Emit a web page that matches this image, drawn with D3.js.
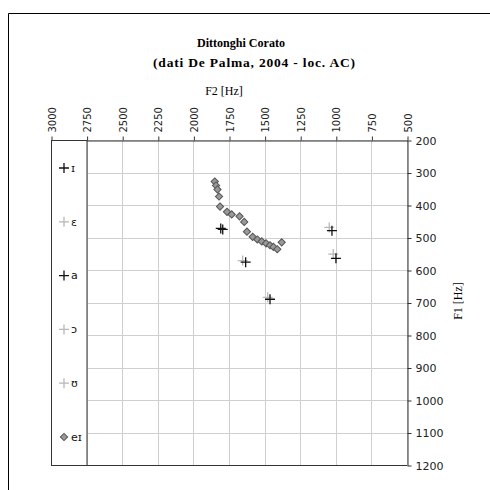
<!DOCTYPE html>
<html>
<head>
<meta charset="utf-8">
<script src="https://cdn.jsdelivr.net/npm/d3@7"></script>
<style>
  html, body { margin: 0; padding: 0; background: #fff; }
  svg { display: block; }
</style>
</head>
<body>
<div id="chart"></div>
<script>
// ── Data ────────────────────────────────────────────────────────────────
const f2Ticks = [3000, 2750, 2500, 2250, 2000, 1750, 1500, 1250, 1000, 750, 500];
const f1Ticks = [200, 300, 400, 500, 600, 700, 800, 900, 1000, 1100, 1200];

// diphthong trajectory eɪ  [F2, F1]
const eiPoints = [
  [1850, 328], [1841, 340], [1831, 352], [1820, 374], [1813, 405],
  [1764, 421], [1731, 429], [1676, 435], [1643, 452], [1624, 482],
  [1584, 498], [1551, 506], [1520, 512], [1490, 518], [1462, 524],
  [1438, 529], [1411, 536], [1380, 515]
];

// monophthong series  [F2, F1]
const iPoints = [[1808, 472], [1462, 690], [999, 564]];
const aPoints = [[1794, 475], [1633, 576], [1027, 479]];
const ePoints = [[1654, 571], [1046, 469]];
const oPoints = [[1478, 684]];
const uPoints = [[1018, 551]];

const legendLabels = ["ɪ", "ɛ", "a", "ɔ", "ʊ", "eɪ"];

// ── Palette ─────────────────────────────────────────────────────────────
const BLACK = "#111";
const LIGHT = "#b8b8b8";
const GRID = "#cfcfcf";
const AXIS = "#333";

const series = [
  { label: legendLabels[0], data: iPoints, color: BLACK, kind: "plus" },
  { label: legendLabels[1], data: ePoints, color: LIGHT, kind: "plus" },
  { label: legendLabels[2], data: aPoints, color: BLACK, kind: "plus" },
  { label: legendLabels[3], data: oPoints, color: LIGHT, kind: "plus" },
  { label: legendLabels[4], data: uPoints, color: LIGHT, kind: "plus" },
  { label: legendLabels[5], data: eiPoints, color: "#999", kind: "diamond" }
];

const W = 490, H = 490;
const svg = d3.select("#chart").append("svg").attr("width", W).attr("height", H);

// outer chart frame (extends past the picture)
svg.append("path").attr("d", "M8.5,490 V13.5 H490")
  .attr("fill", "none").attr("stroke", "#000").attr("stroke-width", 1);

const x = d3.scaleLinear().domain([3000, 500]).range([51, 407]);
const y = d3.scaleLinear().domain([200, 1200]).range([140, 465]);

// Grid
svg.append("g").selectAll("line").data(f2Ticks).enter().append("line")
  .attr("x1", d => Math.round(x(d)) + 0.5).attr("x2", d => Math.round(x(d)) + 0.5)
  .attr("y1", y(200)).attr("y2", y(1200))
  .attr("stroke", GRID).attr("stroke-width", 1);
svg.append("g").selectAll("line").data(f1Ticks).enter().append("line")
  .attr("y1", d => Math.round(y(d)) + 0.5).attr("y2", d => Math.round(y(d)) + 0.5)
  .attr("x1", x(3000)).attr("x2", x(500))
  .attr("stroke", GRID).attr("stroke-width", 1);

// bottom border of plot
svg.append("line")
  .attr("x1", x(3000)).attr("x2", x(500))
  .attr("y1", Math.round(y(1200)) + 0.5).attr("y2", Math.round(y(1200)) + 0.5)
  .attr("stroke", AXIS);

// Top axis (F2)
const topAxis = svg.append("g").attr("transform", `translate(0.5,${Math.round(y(200)) + 0.5})`)
  .call(d3.axisTop(x).tickValues(f2Ticks).tickSize(4).tickSizeOuter(0).tickFormat(d3.format("d")));
topAxis.selectAll("text")
  .attr("transform", "translate(0,-8) rotate(-90)")
  .attr("text-anchor", "start").attr("dy", "0.35em").attr("x", 0).attr("y", 0)
  .attr("fill", "#222").style("font-family", "'DejaVu Sans', sans-serif").style("font-size", "10px");
topAxis.selectAll("line, .domain").attr("stroke", AXIS);

// Right axis (F1)
const rightAxis = svg.append("g").attr("transform", `translate(${Math.round(x(500)) + 0.5},0.5)`)
  .call(d3.axisRight(y).tickValues(f1Ticks).tickSize(4).tickSizeOuter(0).tickFormat(d3.format("d")));
rightAxis.selectAll("text")
  .attr("x", 8)
  .attr("fill", "#222").style("font-family", "'DejaVu Sans', sans-serif").style("font-size", "11px");
rightAxis.selectAll("line, .domain").attr("stroke", AXIS);

// Markers
function drawPlus(g, cx, cy, color) {
  g.append("path")
    .attr("d", `M${cx - 5},${cy} H${cx + 5} M${cx},${cy - 5} V${cy + 5}`)
    .attr("stroke", color).attr("stroke-width", 1.3).attr("fill", "none");
}
function drawDiamond(g, cx, cy) {
  g.append("path")
    .attr("d", d3.symbol(d3.symbolSquare, 26)())
    .attr("transform", `translate(${cx},${cy}) rotate(45)`)
    .attr("fill", "#999").attr("stroke", "#555").attr("stroke-width", 1);
}

const marks = svg.append("g");
// gray series first, black on top
const order = [...series].sort((a, b) => (a.color === LIGHT ? -1 : 1) - (b.color === LIGHT ? -1 : 1));
order.forEach(s => {
  s.data.forEach(d => {
    if (s.kind === "plus") drawPlus(marks, x(d[0]), y(d[1]), s.color);
    else drawDiamond(marks, x(d[0]), y(d[1]));
  });
});

// Legend box over left strip
const legend = svg.append("g");
legend.append("rect")
  .attr("x", 51.5).attr("y", 140.5).attr("width", 35.5).attr("height", 325)
  .attr("fill", "#fff").attr("stroke", AXIS).attr("stroke-width", 1);
const legendY = d3.scalePoint().domain(legendLabels).range([168, 437]);
series.forEach(s => {
  const ly = legendY(s.label);
  if (s.kind === "plus") drawPlus(legend, 64, ly, s.color);
  else drawDiamond(legend, 64, ly);
  legend.append("text")
    .attr("x", 71).attr("y", ly).attr("dy", "0.35em")
    .attr("fill", "#111").style("font-family", "'DejaVu Sans', sans-serif").style("font-size", "11px")
    .text(s.label);
});

// Titles
const serif = "'Liberation Serif', 'Times New Roman', serif";
svg.append("text").attr("x", 241).attr("y", 47).attr("text-anchor", "middle")
  .style("font-family", serif).style("font-size", "13.5px").style("font-weight", "bold")
  .attr("textLength", 88).attr("lengthAdjust", "spacingAndGlyphs")
  .text("Dittonghi Corato");
svg.append("text").attr("x", 254).attr("y", 67).attr("text-anchor", "middle")
  .style("font-family", serif).style("font-size", "13.5px").style("font-weight", "bold")
  .attr("textLength", 202).attr("lengthAdjust", "spacing")
  .text("(dati De Palma, 2004 - loc. AC)");
svg.append("text").attr("x", 224).attr("y", 95).attr("text-anchor", "middle")
  .style("font-family", serif).style("font-size", "12px")
  .text("F2 [Hz]");
svg.append("text").attr("transform", "translate(458,301) rotate(-90)")
  .attr("text-anchor", "middle").attr("dy", "0.35em")
  .style("font-family", serif).style("font-size", "12px")
  .text("F1 [Hz]");
</script>
</body>
</html>
